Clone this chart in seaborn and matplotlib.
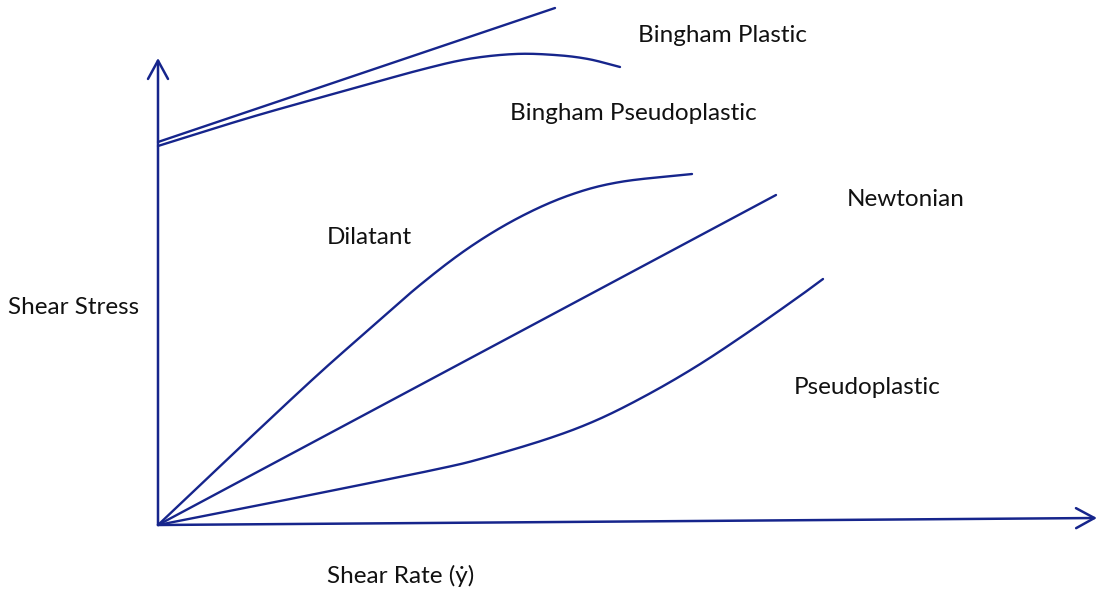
import matplotlib
matplotlib.use("Agg")
import matplotlib.pyplot as plt
import seaborn as sns
import pandas as pd
import numpy as np

# shear rate / shear stress (origin at the axes corner)
bingham_plastic_x = [0, 397]
bingham_plastic_y = [383, 517]

bingham_pseudo_x = [0, 97, 197, 262, 310, 357, 397, 430, 462]
bingham_pseudo_y = [379, 409, 437, 455, 466, 471, 470, 466, 458]

dilatant_x = [0, 77, 154, 208, 262, 312, 362, 412, 462, 534]
dilatant_y = [0, 73, 145, 193, 240, 278, 308, 330, 343, 351]

newtonian_x = [0, 618]
newtonian_y = [0, 330]

pseudoplastic_x = [0, 97, 197, 280, 322, 389, 439, 489, 539, 589, 639, 665]
pseudoplastic_y = [0, 19, 39, 56, 66, 86, 105, 130, 159, 192, 227, 246]

# axes of the diagram
y_axis_x = [0, 0]
y_axis_y = [0, 467]
x_axis_x = [0, 939]
x_axis_y = [0, 7]

labels = ["Bingham Plastic", "Bingham Pseudoplastic", "Newtonian", "Dilatant",
          "Shear Stress", "Pseudoplastic", "Shear Rate (ẏ)"]
label_x = [480, 352, 689, 169, -150, 636, 169]
label_y = [490, 412, 326, 288, 217, 138, -51]

navy = "#16258c"


def catmull_rom(xs, ys, n=30):
    # smooth curve through the read points
    p = np.column_stack([xs, ys]).astype(float)
    p = np.vstack([2 * p[0] - p[1], p, 2 * p[-1] - p[-2]])
    out = []
    t = np.linspace(0, 1, n, endpoint=False)[:, None]
    for i in range(1, len(p) - 2):
        p0, p1, p2, p3 = p[i - 1], p[i], p[i + 1], p[i + 2]
        seg = 0.5 * ((2 * p1) + (-p0 + p2) * t + (2 * p0 - 5 * p1 + 4 * p2 - p3) * t ** 2
                     + (-p0 + 3 * p1 - 3 * p2 + p3) * t ** 3)
        out.append(seg)
    out.append(p[-2][None, :])
    out = np.vstack(out)
    return out[:, 0], out[:, 1]


sns.set_theme(style="white")
plt.rcParams['font.family'] = ['Lato', 'DejaVu Sans']

fig = plt.figure(figsize=(11.03, 5.91), dpi=100)
ax = fig.add_axes([0, 0, 1, 1])

curves = [
    (bingham_plastic_x, bingham_plastic_y),
    (bingham_pseudo_x, bingham_pseudo_y),
    (dilatant_x, dilatant_y),
    (newtonian_x, newtonian_y),
    (pseudoplastic_x, pseudoplastic_y),
]
for xs, ys in curves:
    cx, cy = catmull_rom(xs, ys)
    df = pd.DataFrame({"rate": cx, "stress": cy})
    sns.lineplot(data=df, x="rate", y="stress", sort=False, estimator=None,
                 color=navy, lw=1.7, ax=ax)

# axes with open arrow heads
arrow = dict(arrowstyle="->,head_length=1.1,head_width=0.6", lw=1.8, color=navy,
             shrinkA=0, shrinkB=0)
ax.annotate("", xy=(y_axis_x[1], y_axis_y[1]), xytext=(y_axis_x[0], y_axis_y[0]),
            arrowprops=arrow)
ax.annotate("", xy=(x_axis_x[1], x_axis_y[1]), xytext=(x_axis_x[0], x_axis_y[0]),
            arrowprops=arrow)

for txt, lx, ly in zip(labels, label_x, label_y):
    ax.text(lx, ly, txt, fontsize=17.5, color="#111111", ha="left", va="center")

ax.set_xlim(-158, 945)
ax.set_ylim(-66, 525)
ax.axis("off")

fig.savefig("out.png", dpi=100)
